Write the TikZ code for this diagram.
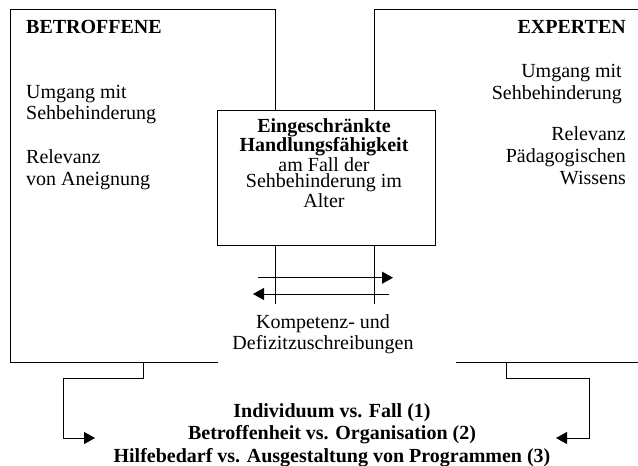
\documentclass[tikz,border=0pt]{standalone}
\usepackage{fontspec}
\setmainfont{Liberation Serif}
\usetikzlibrary{arrows.meta}
\begin{document}
\begin{tikzpicture}[x=1pt,y=-1pt,
  ln/.style={line width=1pt},
  tip/.style={-{Triangle[length=11pt,width=12pt]}},
  txt/.style={inner sep=0pt,font=\fontsize{20}{22}\selectfont},
  ctxt/.style={inner sep=0pt,font=\fontsize{20}{16.8}\selectfont,align=center},
  btxt/.style={inner sep=0pt,font=\fontsize{20}{22.5}\selectfont\bfseries,align=center}]
\useasboundingbox (0,0) rectangle (638,466);
% side frames
\draw[ln] (218,362) -- (10,362) -- (10,9) -- (275,9) -- (275,110);
\draw[ln] (374,110) -- (374,9) -- (638,9);
\draw[ln] (456,362.5) -- (638,362.5);
% centre box
\node[ln,draw,minimum width=218pt,minimum height=135pt,inner sep=0pt] (box) at (326,177.5) {};
\node[ctxt,anchor=base] (boxtxt) at (324,207) {\textbf{Eingeschränkte}\\\textbf{Handlungsfähigkeit}\\am Fall der\\Sehbehinderung im\\Alter};
% vertical lines and arrows
\coordinate (vl1) at (275,304);
\coordinate (vl2) at (374,304);
\draw[ln] (box.south west -| vl1) -- (vl1);
\draw[ln] (box.south west -| vl2) -- (vl2);
\coordinate (a1s) at (258,277.7);
\coordinate (a1e) at (393,277.7);
\coordinate (a2s) at (389,294);
\coordinate (a2e) at (253,294);
\draw[ln,tip] (a1s) -- (a1e);
\draw[ln,tip] (a2s) -- (a2e);
\node[txt,font=\fontsize{20}{21}\selectfont,align=center,anchor=base] (komp) at (323,349) {Kompetenz- und\\Defizitzuschreibungen};
% texts left
\node[txt,font=\fontsize{20}{22}\selectfont\bfseries,anchor=base west] (betr) at (26,33) {BETROFFENE};
\node[txt,font=\fontsize{20}{20.5}\selectfont,align=left,anchor=base west] (l1) at (26,119) {Umgang mit\\Sehbehinderung};
\node[txt,align=left,anchor=base west] (l2) at (26,185) {Relevanz\\von Aneignung};
% texts right
\node[txt,font=\fontsize{20}{22}\selectfont\bfseries,anchor=base east] (exp) at (626,33) {EXPERTEN};
\node[txt,align=right,anchor=base east] (r1) at (622,99) {Umgang mit\\Sehbehinderung};
\node[txt,align=right,anchor=base east] (r2) at (626,184) {Relevanz\\Pädagogischen\\Wissens};
% bottom
\node[btxt,anchor=base] (bot) at (332,462) {Individuum vs. Fall (1)\\Betroffenheit vs. Organisation (2)\\Hilfebedarf vs. Ausgestaltung von Programmen (3)};
\coordinate (bl0) at (143,362);
\coordinate (bl1) at (143,378);
\coordinate (bl2) at (63,378);
\coordinate (bl3) at (63,438);
\coordinate (bl4) at (95,438);
\draw[ln,tip] (bl0) -- (bl1) -- (bl2) -- (bl3) -- (bl4);
\coordinate (br0) at (506,362.5);
\coordinate (br1) at (506,378);
\coordinate (br2) at (589,378);
\coordinate (br3) at (589,438);
\coordinate (br4) at (556,438);
\draw[ln,tip] (br0) -- (br1) -- (br2) -- (br3) -- (br4);
\end{tikzpicture}
\end{document}
